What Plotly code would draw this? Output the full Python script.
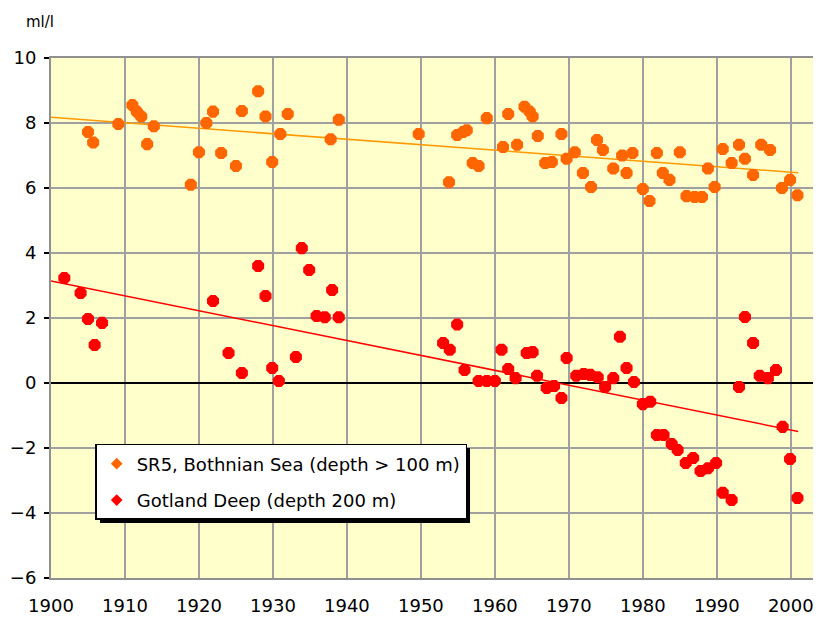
import numpy as np
import plotly.graph_objects as go

# SR5, Bothnian Sea (depth > 100 m), oxygen ml/l
sr5_year = [1905.0, 1905.7, 1909.1, 1911.0, 1911.6, 1912.2, 1913.0, 1913.9, 1918.9, 1920.0,
            1921.0, 1921.9, 1923.0, 1925.0, 1925.8, 1928.0, 1929.0, 1929.9, 1931.0, 1932.0,
            1937.8, 1938.9, 1949.7, 1953.8, 1954.9, 1955.7, 1956.2, 1957.0, 1957.8, 1958.9,
            1961.1, 1961.8, 1963.0, 1964.0, 1964.7, 1965.1, 1965.8, 1966.8, 1967.7, 1969.0,
            1969.7, 1970.8, 1971.9, 1973.0, 1973.8, 1974.6, 1976.0, 1977.2, 1977.8, 1978.6,
            1980.0, 1980.9, 1981.9, 1982.7, 1983.6, 1985.0, 1985.9, 1987.0, 1988.0, 1988.8,
            1989.7, 1990.8, 1992.0, 1993.0, 1993.8, 1994.9, 1996.0, 1997.2, 1998.8, 1999.9,
            2000.9]
sr5_o2 = [7.72, 7.40, 7.97, 8.55, 8.35, 8.20, 7.35, 7.90, 6.10, 7.10,
          8.00, 8.35, 7.08, 6.68, 8.37, 8.98, 8.20, 6.80, 7.66, 8.28,
          7.50, 8.10, 7.66, 6.18, 7.63, 7.72, 7.78, 6.77, 6.68, 8.15,
          7.26, 8.28, 7.33, 8.50, 8.35, 8.20, 7.60, 6.77, 6.80, 7.66,
          6.90, 7.10, 6.46, 6.03, 7.48, 7.17, 6.60, 7.00, 6.46, 7.08,
          5.97, 5.60, 7.08, 6.46, 6.25, 7.10, 5.75, 5.72, 5.72, 6.60,
          6.03, 7.20, 6.77, 7.33, 6.90, 6.40, 7.33, 7.17, 6.00, 6.25,
          5.78]

# Gotland Deep (depth 200 m), oxygen ml/l (negative = H2S)
gd_year = [1901.8, 1904.0, 1905.0, 1905.9, 1906.9, 1921.9, 1924.0, 1925.8, 1928.0, 1929.0,
           1929.9, 1930.8, 1933.1, 1933.9, 1934.9, 1935.9, 1937.0, 1938.0, 1938.9, 1953.0,
           1953.9, 1954.9, 1955.9, 1957.8, 1958.9, 1960.0, 1960.9, 1961.8, 1962.8, 1964.3,
           1965.1, 1965.7, 1967.0, 1968.0, 1969.0, 1969.7, 1971.0, 1972.0, 1972.9, 1973.9,
           1974.9, 1976.0, 1976.9, 1977.8, 1978.8, 1980.0, 1981.0, 1981.9, 1982.8, 1983.9,
           1984.7, 1985.8, 1986.8, 1987.8, 1988.8, 1989.9, 1990.8, 1992.0, 1993.0, 1993.8,
           1994.9, 1995.8, 1996.9, 1998.0, 1998.9, 1999.9, 2000.9]
gd_o2 = [3.23, 2.77, 1.97, 1.17, 1.85, 2.52, 0.92, 0.31, 3.60, 2.68,
         0.46, 0.06, 0.80, 4.15, 3.48, 2.06, 2.02, 2.86, 2.02, 1.23,
         1.02, 1.80, 0.40, 0.06, 0.06, 0.06, 1.02, 0.43, 0.15, 0.92,
         0.95, 0.22, -0.15, -0.09, -0.46, 0.77, 0.22, 0.28, 0.25, 0.18,
         -0.12, 0.15, 1.42, 0.46, 0.03, -0.65, -0.58, -1.60, -1.60, -1.88,
         -2.06, -2.46, -2.31, -2.71, -2.62, -2.46, -3.38, -3.60, -0.12, 2.03,
         1.23, 0.22, 0.15, 0.40, -1.35, -2.34, -3.54]

trend_span = [1900, 2001]
x_ticks = list(range(1900, 2001, 10))
y_ticks = list(range(-6, 11, 2))

ORANGE = "#FF6600"
RED = "#FF0000"
FONT = "DejaVu Sans, Arial, sans-serif"


def trend(xs, ys):
    k, b = np.polyfit(xs, ys, 1)
    return [k * x + b for x in trend_span]


fig = go.Figure()

# linear trend lines
fig.add_trace(go.Scatter(x=trend_span, y=trend(sr5_year, sr5_o2), mode="lines",
                         line=dict(color="#FF9900", width=1.5), showlegend=False, hoverinfo="skip"))
fig.add_trace(go.Scatter(x=trend_span, y=trend(gd_year, gd_o2), mode="lines",
                         line=dict(color=RED, width=1.5), showlegend=False, hoverinfo="skip"))

# observations
fig.add_trace(go.Scatter(x=sr5_year, y=sr5_o2, mode="markers",
                         marker=dict(color=ORANGE, size=13, symbol="octagon"), showlegend=False))
fig.add_trace(go.Scatter(x=gd_year, y=gd_o2, mode="markers",
                         marker=dict(color=RED, size=13, symbol="octagon"), showlegend=False))

# legend entries (small diamonds, like the original)
fig.add_trace(go.Scatter(x=[None], y=[None], mode="markers", name="SR5, Bothnian Sea (depth > 100 m)",
                         legendgroup="a", marker=dict(color=ORANGE, size=9, symbol="diamond")))
fig.add_trace(go.Scatter(x=[None], y=[None], mode="markers", name="Gotland Deep (depth 200 m)",
                         legendgroup="b", marker=dict(color=RED, size=9, symbol="diamond")))

# legend drop shadow
fig.add_shape(type="rect", xref="paper", yref="paper", x0=0.0643, x1=0.5499, y0=0.1058, y1=0.25,
              fillcolor="black", line=dict(width=0), layer="above")

fig.add_annotation(text="ml/l", xref="paper", yref="paper", x=-0.014, y=1.069,
                   xanchor="center", yanchor="middle", showarrow=False,
                   font=dict(family=FONT, size=15, color="black"))

# the page body has an 8px margin, so the figure is 8px smaller than the window
fig.update_layout(
    width=813, height=609,
    margin=dict(l=43, r=8, t=50, b=39),
    paper_bgcolor="white",
    plot_bgcolor="#FFFFCC",
    font=dict(family=FONT, size=18, color="black"),
    legend=dict(x=0.058, y=0.2577, xanchor="left", yanchor="top",
                bgcolor="white", bordercolor="black", borderwidth=1.5,
                font=dict(family=FONT, size=18), itemwidth=30, tracegroupgap=10),
    xaxis=dict(range=[1900, 2003], tickvals=x_ticks, showgrid=True, gridcolor="#A0A0A0", gridwidth=2,
               showline=True, linecolor="#909090", linewidth=2, mirror=True, zeroline=False,
               ticks="", ticklabelstandoff=10, automargin=False),
    yaxis=dict(range=[-6, 10], tickvals=y_ticks, showgrid=True, gridcolor="#A0A0A0", gridwidth=2,
               showline=True, linecolor="#909090", linewidth=2, mirror=True,
               zeroline=True, zerolinecolor="black", zerolinewidth=1.5,
               ticks="outside", ticklen=5, tickcolor="black", tickwidth=1.5,
               ticklabelstandoff=4, automargin=False),
)

fig.write_html("out.html")
